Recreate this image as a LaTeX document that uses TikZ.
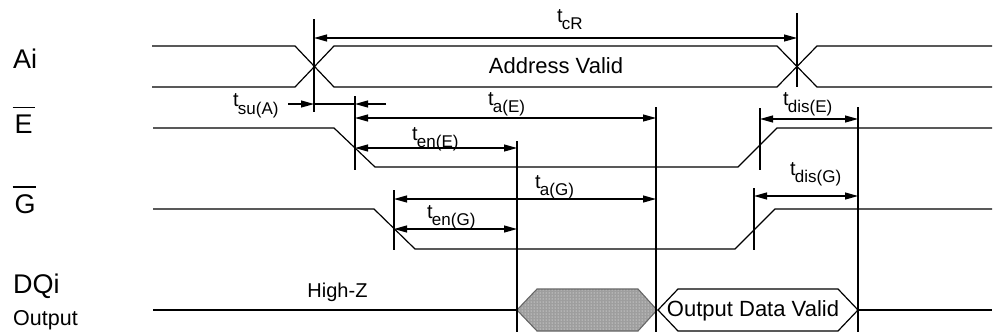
\documentclass[tikz,border=0pt]{standalone}
\usepackage{fontspec}
\setmainfont{Liberation Sans}
\usetikzlibrary{arrows.meta,patterns}
\newcommand\tlab[1]{t\kern-0.8pt\raisebox{-7.5pt}{\fontsize{17}{17}\selectfont #1}}
\begin{document}
\begin{tikzpicture}[x=1pt,y=-1pt,
  sig/.style={line width=1.2pt,line join=miter},
  markerline/.style={line width=1.3pt},
  dim/.style={line width=1.2pt,{Triangle[length=13pt,width=7pt]}-{Triangle[length=13pt,width=7pt]}},
  dimr/.style={line width=1.2pt,-{Triangle[length=13pt,width=7pt]}},
  tl/.style={inner sep=0pt,anchor=base west,font=\fontsize{20}{20}\selectfont},
  big/.style={inner sep=0pt,anchor=base west,font=\fontsize{27}{27}\selectfont},
  txt/.style={inner sep=0pt,anchor=base,font=\fontsize{22}{22}\selectfont}]
\useasboundingbox (0,0) rectangle (993,332);
% signal names
\node[big] (ai) at (13,68) {Ai};
\node[big] (e) at (14.5,133) {E};
\draw[line width=1.3pt] ([xshift=-2pt,yshift=7pt]e.north west) -- ([xshift=2pt,yshift=7pt]e.north east);
\node[big] (g) at (14.5,213) {G};
\draw[line width=1.3pt] ([xshift=-2pt,yshift=7pt]g.north west) -- ([xshift=0pt,yshift=7pt]g.north east);
\node[big] (dq) at (13,293) {DQi};
\node[inner sep=0pt,anchor=base west,font=\fontsize{21.5}{21.5}\selectfont] (out) at (13,325) {Output};
% waveforms
\draw[sig] (152,46) -- (295,46) -- (334,87) -- (777,87) -- (817,46) -- (992,46);
\draw[sig] (152,87) -- (295,87) -- (334,46) -- (777,46) -- (817,87) -- (992,87);
\draw[sig] (153,128) -- (334,128) -- (375,167) -- (738,167) -- (777,128) -- (992,128);
\draw[sig] (153,209) -- (374,209) -- (415,249) -- (735,249) -- (775,209) -- (992,209);
\draw[sig] (153,310) -- (517,310);
\fill[black!38] (517,310) -- (537,289) -- (638,289) -- (657,310) -- (638,331) -- (537,331) -- cycle;
\path[pattern=dots,pattern color=white] (517,310) -- (537,289) -- (638,289) -- (657,310) -- (638,331) -- (537,331) -- cycle;
\draw[line width=1.1pt,draw=black!60] (517,310) -- (537,289) -- (638,289) -- (657,310) -- (638,331) -- (537,331) -- cycle;
\draw[sig] (658,310) -- (678,289) -- (838,289) -- (858,310) -- (838,331) -- (678,331) -- cycle;
\draw[sig] (858,310) -- (992,310);
% marker lines
\coordinate (v1t) at (314,19);  \coordinate (v1b) at (314,112);
\coordinate (v2t) at (797,13);  \coordinate (v2b) at (797,87);
\coordinate (v3t) at (355,96);  \coordinate (v3b) at (355,170);
\coordinate (v4t) at (656,107); \coordinate (v4b) at (656,332);
\coordinate (v5t) at (517,141); \coordinate (v5b) at (517,332);
\coordinate (v6t) at (760,108); \coordinate (v6b) at (760,170);
\coordinate (v7t) at (858,107); \coordinate (v7b) at (858,332);
\coordinate (v8t) at (394,190); \coordinate (v8b) at (394,250);
\coordinate (v9t) at (754,188); \coordinate (v9b) at (754,250);
\foreach \k in {1,...,9} {\draw[markerline] (v\k t) -- (v\k b);}
% dimension arrows
\coordinate (cRa) at (314,38);  \coordinate (cRb) at (797,38);
\draw[dim] (cRa) -- (cRb);
\coordinate (suo) at (288,104); \coordinate (sua) at (314,104);
\coordinate (sub) at (355,104); \coordinate (suc) at (386,104);
\draw[dimr] (suo) -- (sua);
\draw[line width=1.2pt] (sua) -- (sub);
\draw[dimr] (suc) -- (sub);
\coordinate (aEa) at (355,118); \coordinate (aEb) at (656,118);
\draw[dim] (aEa) -- (aEb);
\coordinate (enEa) at (355,148); \coordinate (enEb) at (517,148);
\draw[dim] (enEa) -- (enEb);
\coordinate (dEa) at (760,119); \coordinate (dEb) at (858,119);
\draw[dim] (dEa) -- (dEb);
\coordinate (aGa) at (394,199); \coordinate (aGb) at (656,199);
\draw[dim] (aGa) -- (aGb);
\coordinate (enGa) at (394,229); \coordinate (enGb) at (517,229);
\draw[dim] (enGa) -- (enGb);
\coordinate (dGa) at (754,196); \coordinate (dGb) at (858,196);
\draw[dim] (dGa) -- (dGb);
% timing labels
\node[tl] (lcR) at (557,22) {\tlab{cR}};
\node[tl] (lsu) at (233,106.5) {\tlab{su(A)}};
\node[tl] (laE) at (488,105) {\tlab{a(E)}};
\node[tl] (lenE) at (412,140) {\tlab{en(E)}};
\node[tl] (ldE) at (783,105) {\tlab{dis(E)}};
\node[tl] (laG) at (535,188) {\tlab{a(G)}};
\node[tl] (lenG) at (427,218) {\tlab{en(G)}};
\node[tl] (ldG) at (790,175) {\tlab{dis(G)}};
% texts
\node[txt] (av) at (556,73) {Address Valid};
\node[txt,font=\fontsize{20}{20}\selectfont] (hz) at (337.5,297) {High-Z};
\node[txt] (odv) at (753,316) {Output Data Valid};
\end{tikzpicture}
\end{document}
